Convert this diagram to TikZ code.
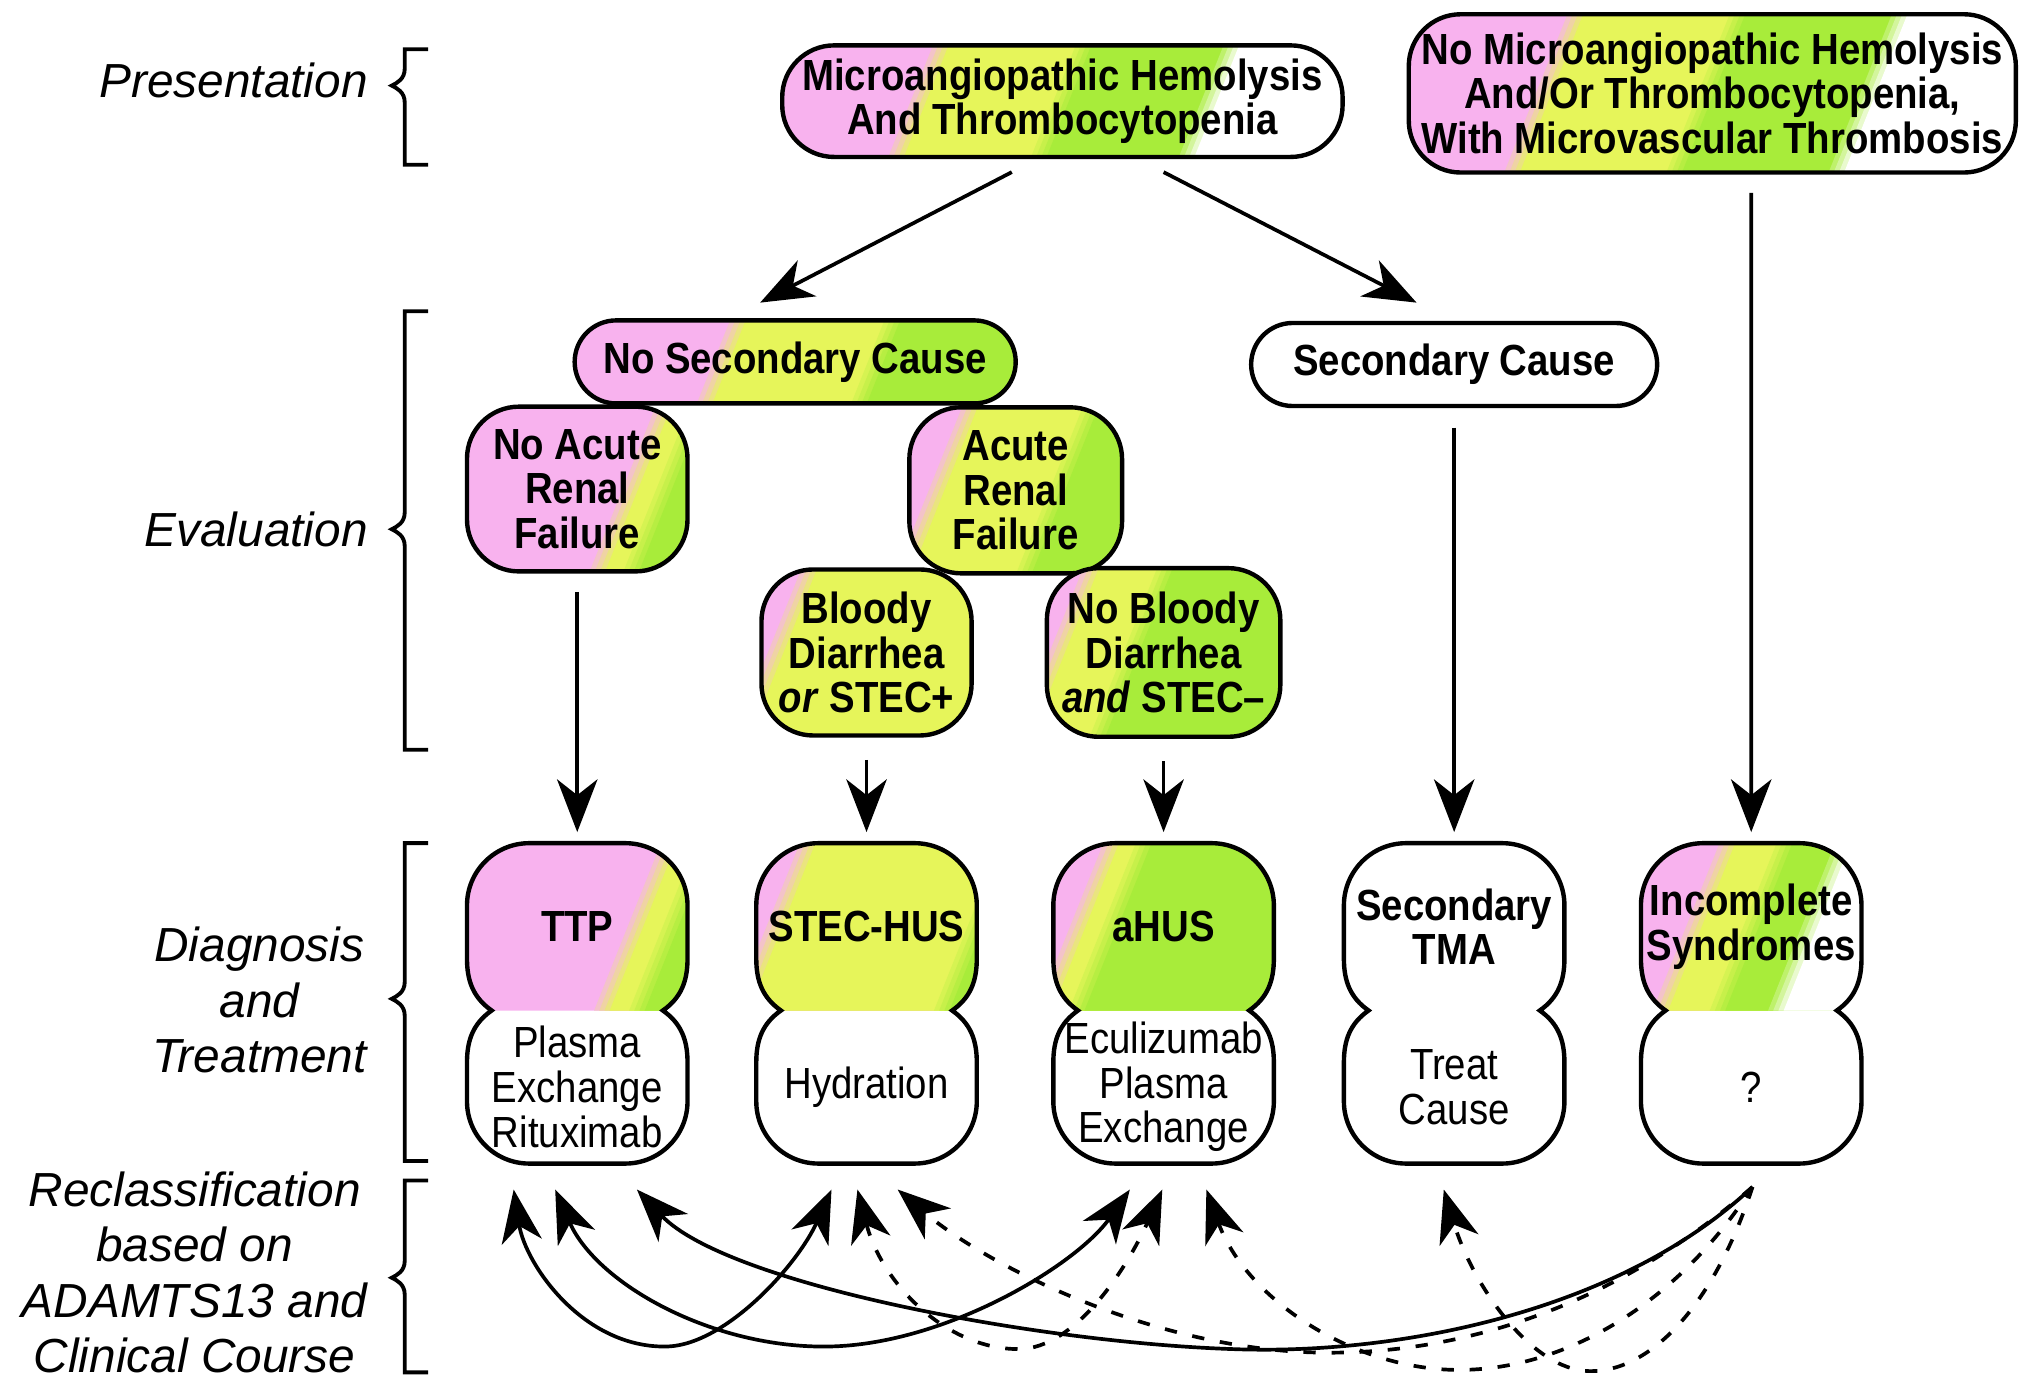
\documentclass[tikz,border=0pt]{standalone}
\usepackage{fontspec}
\setmainfont{Liberation Sans}
\newfontfamily\boxfont{Liberation Sans}[FakeStretch=0.88]
\usetikzlibrary{arrows.meta}
\definecolor{pk}{RGB}{248,178,238}
\definecolor{ye}{RGB}{230,245,90}
\definecolor{gr}{RGB}{168,236,58}
\newcommand\pxu{0.36909pt}
% slanted fill from boundary (x at height yc) to the right
\newcommand\slfill[3]{\fill[fill={#3}] ({#2+120},{#1-300}) -- (2000,{#1-300}) -- (2000,{#1+300}) -- ({#2-120},{#1+300}) -- cycle;}
\newcommand\bands[3]{%
  \fill[fill=#2] (0,{#1-300}) rectangle (2000,{#1+300});
  \foreach \xb/\ca/\cb in {#3}{%
    \slfill{#1}{\xb-6}{\ca!75!\cb}
    \slfill{#1}{\xb-2}{\ca!50!\cb}
    \slfill{#1}{\xb+2}{\ca!25!\cb}
    \slfill{#1}{\xb+6}{\cb}
  }}
\newcommand\stripebox[9]{%
  \begin{scope}
    \clip[rounded corners={#6*0.012972cm}] ({#2-#4/2},{#3-#5/2}) rectangle ({#2+#4/2},{#3+#5/2});
    \bands{#3}{#7}{#8}
  \end{scope}
  \node[box, minimum width={#4*0.012972cm}, minimum height={#5*0.012972cm}, rounded corners={#6*0.012972cm}] (#1) at (#2,#3) {#9};}
\newcommand\peanutpath[1]{({#1-37},650) -- ({#1+37},650) .. controls ({#1+63.5},650) and ({#1+85},671.5) .. ({#1+85},698) -- ({#1+85},739) to[out=-90,in=35] ({#1+66},779) to[out=-35,in=90] ({#1+85},819) -- ({#1+85},849) .. controls ({#1+85},875.5) and ({#1+63.5},897) .. ({#1+37},897) -- ({#1-37},897) .. controls ({#1-63.5},897) and ({#1-85},875.5) .. ({#1-85},849) -- ({#1-85},819) to[out=90,in=-145] ({#1-66},779) to[out=145,in=-90] ({#1-85},739) -- ({#1-85},698) .. controls ({#1-85},671.5) and ({#1-63.5},650) .. ({#1-37},650) -- cycle}
\newcommand\peanuttop[1]{({#1-66},779) to[out=145,in=-90] ({#1-85},739) -- ({#1-85},698) .. controls ({#1-85},671.5) and ({#1-63.5},650) .. ({#1-37},650) -- ({#1+37},650) .. controls ({#1+63.5},650) and ({#1+85},671.5) .. ({#1+85},698) -- ({#1+85},739) to[out=-90,in=35] ({#1+66},779) -- cycle}
\newcommand\diag[6]{%
  \begin{scope}\clip \peanuttop{#2}; \bands{714}{#3}{#4}\end{scope}
  \draw[line width=1.25pt] \peanutpath{#2};
  \node[lobe] (#1) at (#2,714.5) {#5};
  \node[lobeb] (#1T) at (#2,838) {#6};}
\newcommand\brak[3]{\draw[brk] (330,#1) -- (312,#1) -- (312,{#2-13}) .. controls (312,{#2-5}) and (306,{#2-2}) .. (302,#2) .. controls (306,{#2+2}) and (312,{#2+5}) .. (312,{#2+13}) -- (312,#3) -- (330,#3);}
\begin{document}
\begin{tikzpicture}[x=0.012972cm, y=-0.012972cm,
  box/.style={draw, line width=1.25pt, align=center, inner sep=0pt, font=\boxfont\fontsize{12.4}{12.7}\selectfont\bfseries},
  lobe/.style={align=center, inner sep=0pt, minimum width=170*0.012972cm, minimum height=129*0.012972cm, font=\boxfont\fontsize{12.4}{12.7}\selectfont\bfseries},
  lobeb/.style={align=center, inner sep=0pt, minimum width=170*0.012972cm, minimum height=118*0.012972cm, font=\boxfont\fontsize{12.4}{12.7}\selectfont},
  lbl/.style={inner sep=0pt, align=center, font=\fontsize{13.6}{15.8}\selectfont\itshape},
  brk/.style={line width=1.1pt},
  arr/.style={line width=1.05pt, -{Stealth[length=15pt, width=11.5pt, inset=4.5pt]}},
  rarr/.style={line width=1.05pt, -{Stealth[length=15pt, width=11.5pt, inset=4.5pt]}},
  rarrb/.style={line width=1.05pt, {Stealth[length=15pt, width=11.5pt, inset=4.5pt]}-{Stealth[length=15pt, width=11.5pt, inset=4.5pt]}},
  dsh/.style={dash pattern=on 3.5pt off 4.5pt}]
\useasboundingbox (0,0) rectangle (1568,1062);

% left labels and brackets
\node[lbl, anchor=east] (lpres) at (284,62) {Presentation};
\node[lbl, anchor=east] (leval) at (284,408) {Evaluation};
\node[lbl] (ldiag) at (200,771) {Diagnosis\\and\\Treatment};
\node[lbl] (lrecl) at (150,981) {Reclassification\\based on\\ADAMTS13 and\\Clinical Course};
\brak{38}{66}{127}
\brak{240}{408}{578}
\brak{650}{770}{895}
\brak{910}{985}{1058}

% presentation
\stripebox{n1}{819}{78}{432}{86}{40}{pk}{708/pk/ye, 818/ye/gr, 932/gr/white}{Microangiopathic Hemolysis\\And Thrombocytopenia}
\stripebox{n2}{1320}{72}{468}{122}{40}{pk}{1190/pk/ye, 1315/ye/gr, 1440/gr/white}{No Microangiopathic Hemolysis\\And/Or Thrombocytopenia,\\With Microvascular Thrombosis}

% evaluation
\stripebox{nsc}{613}{279}{340}{64}{32}{pk}{556/pk/ye, 675/ye/gr}{No Secondary Cause}
\node[box, minimum width=313*0.012972cm, minimum height=64*0.012972cm, rounded corners=32*0.012972cm] (sc) at (1121,281) {Secondary Cause};
\stripebox{narf}{445}{377}{170}{127}{40}{pk}{486/pk/ye, 512/ye/gr}{No Acute\\Renal\\Failure}
\stripebox{arf}{783}{378}{164}{128}{40}{pk}{722/pk/ye, 815/ye/gr}{Acute\\Renal\\Failure}
\stripebox{bd}{668}{503}{162}{128}{40}{pk}{598/pk/ye, 765/ye/gr}{Bloody\\Diarrhea\\\textit{or} STEC+}
\stripebox{nbd}{897}{503}{180}{130}{40}{pk}{815/pk/ye, 872/ye/gr}{No Bloody\\Diarrhea\\\textit{and} STEC–}

% diagnosis and treatment
\diag{ttp}{445}{pk}{490/pk/ye, 517/ye/gr}{TTP}{Plasma\\Exchange\\Rituximab}
\diag{stec}{668}{pk}{597/pk/ye, 752/ye/gr}{STEC-HUS}{Hydration}
\diag{ahus}{897}{pk}{831/pk/ye, 856/ye/gr}{aHUS}{Eculizumab\\Plasma\\Exchange}
\diag{sectma}{1121}{white}{2000/white/white}{Secondary\\TMA}{Treat\\Cause}
\diag{inc}{1350}{pk}{1306/pk/ye, 1350/ye/gr, 1395/gr/white}{Incomplete\\Syndromes}{?}

% main connectors
\draw[arr] ([xshift=-39*\pxu, yshift=-10*\pxu]n1.south) -- ([xshift=-27*\pxu, yshift=12*\pxu]nsc.north);
\draw[arr] ([xshift=78*\pxu, yshift=-10*\pxu]n1.south) -- ([xshift=-29*\pxu, yshift=14*\pxu]sc.north);
\draw[arr] ([yshift=-14*\pxu]narf.south) -- ([yshift=8*\pxu]ttp.north);
\draw[arr] ([yshift=-17*\pxu]bd.south) -- ([yshift=8*\pxu]stec.north);
\draw[arr] ([yshift=-17*\pxu]nbd.south) -- ([yshift=8*\pxu]ahus.north);
\draw[arr] ([yshift=-15*\pxu]sc.south) -- ([yshift=8*\pxu]sectma.north);
\draw[arr] ([xshift=30*\pxu, yshift=-14*\pxu]n2.south) -- ([yshift=8*\pxu]inc.north);

% reclassification
\coordinate (a1) at (396,917);
\coordinate (a2) at (428,917);
\coordinate (a3) at (491,917);
\coordinate (b1) at (641,917);
\coordinate (b2) at (661,917);
\coordinate (b3) at (692,917);
\coordinate (c1) at (871,917);
\coordinate (c2) at (896,917);
\coordinate (c3) at (930,917);
\coordinate (d1) at (1113,917);
\coordinate (e) at (1351,915);
\draw[rarrb] (a1) .. controls (405,975) and (450,1040) .. (515,1038) .. controls (560,1036) and (615,975) .. (b1);
\draw[rarrb] (a2) .. controls (460,990) and (550,1040) .. (640,1038) .. controls (730,1036) and (830,975) .. (c1);
\draw[rarr] (e) .. controls (1250,1010) and (1080,1045) .. (950,1040) .. controls (800,1035) and (560,990) .. (a3);
\draw[rarrb, dsh] (b2) .. controls (680,990) and (730,1040) .. (785,1040) .. controls (830,1040) and (870,975) .. (c2);
\draw[rarr, dsh] (e) .. controls (1230,1020) and (1100,1048) .. (1000,1042) .. controls (880,1035) and (760,975) .. (b3);
\draw[rarr, dsh] (e) .. controls (1290,1010) and (1200,1058) .. (1120,1056) .. controls (1040,1054) and (960,1000) .. (c3);
\draw[rarr, dsh] (e) .. controls (1320,1010) and (1270,1058) .. (1225,1057) .. controls (1180,1056) and (1135,990) .. (d1);
\end{tikzpicture}
\end{document}
